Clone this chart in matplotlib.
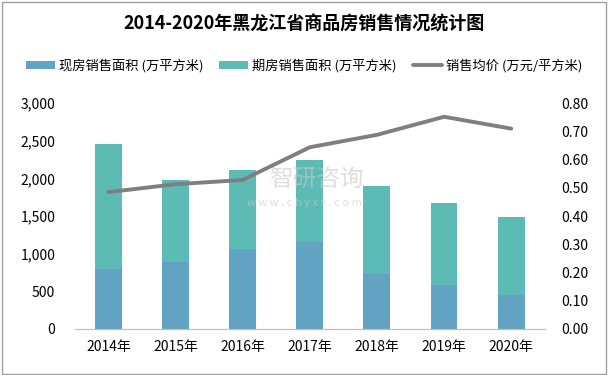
import matplotlib.pyplot as plt
from matplotlib.patches import Rectangle
import numpy as np

plt.rcParams['font.family'] = ['Noto Sans CJK SC', 'DejaVu Sans']

years = ['2014年', '2015年', '2016年', '2017年', '2018年', '2019年', '2020年']
spot_area = [800, 890, 1063, 1156, 735, 585, 452]
total_area = [2460, 1980, 2113, 2246, 1900, 1675, 1489]
futures_area = [t - s for t, s in zip(total_area, spot_area)]
avg_price = [0.485, 0.513, 0.528, 0.644, 0.688, 0.752, 0.710]

fig = plt.figure(figsize=(6.08, 3.75), dpi=100)
ax = fig.add_axes([0.123, 0.1227, 0.773, 0.602])
ax2 = ax.twinx()

x = np.arange(len(years))
blue = '#62A2C2'
teal = '#5CBCB5'
ax.bar(x, spot_area, 0.4, color=blue, label='现房销售面积 (万平方米)', zorder=2)
ax.bar(x, futures_area, 0.4, bottom=spot_area, color=teal,
       label='期房销售面积 (万平方米)', zorder=2)
ax2.plot(x, avg_price, color='#7F7F7F', lw=2.8, label='销售均价 (万元/平方米)',
         solid_capstyle='round')

ax.set_xlim(-0.5, 6.5)
ax.set_ylim(0, 3000)
ax.set_yticks(range(0, 3001, 500))
ax.set_yticklabels([f'{v:,}' for v in range(0, 3001, 500)])
ax2.set_ylim(0, 0.8)
ax2.set_yticks(np.arange(0, 0.81, 0.1))
ax2.set_yticklabels([f'{v:.2f}' for v in np.arange(0, 0.81, 0.1)])
ax.set_xticks(x)
ax.set_xticklabels(years)

for a in (ax, ax2):
    for s in ['top', 'left', 'right']:
        a.spines[s].set_visible(False)
    a.spines['bottom'].set_color('#BFBFBF')
    a.tick_params(length=0, labelsize=10, colors='#000000')
ax.tick_params(axis='y', pad=14)
ax2.tick_params(axis='y', pad=12)
ax.tick_params(axis='x', pad=8)

fig.text(0.5, 0.935, '2014-2020年黑龙江省商品房销售情况统计图', ha='center', va='center',
         fontsize=13, fontweight='bold')

h1, l1 = ax.get_legend_handles_labels()
h2, l2 = ax2.get_legend_handles_labels()
fig.legend(h1 + h2, l1 + l2, loc='center', bbox_to_anchor=(0.5, 0.825), ncol=3,
           frameon=False, fontsize=9.5, handlelength=2.2, handleheight=0.5,
           columnspacing=1.2, handletextpad=0.3)

# watermark
fig.text(0.52, 0.52, '智研咨询', ha='center', va='center', fontsize=17,
         color='#C8C8C8', alpha=0.6)
fig.text(0.50, 0.458, 'w w w . c h y x x . c o m', ha='center', va='center',
         fontsize=8, color='#C8C8C8', alpha=0.6)

fig.patches.append(Rectangle((0.003, 0.004), 0.994, 0.992, transform=fig.transFigure,
                             fill=False, edgecolor='#A0A0A0', lw=1))

fig.savefig('out.png', dpi=100)
